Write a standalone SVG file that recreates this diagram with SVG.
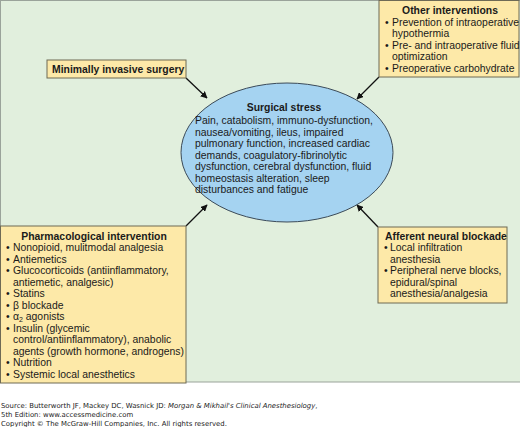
<svg xmlns="http://www.w3.org/2000/svg" width="520" height="427" viewBox="0 0 520 427">
<style>
.bg{fill:#e1efdd;stroke:#9aa39a;stroke-width:1}
.box{fill:#fde9a8;stroke:#6e6a55;stroke-width:1}
.ell{fill:#a5d3f1;stroke:#3b4a58;stroke-width:1}
text{font-family:"Liberation Sans",Arial,sans-serif;font-size:10.4px;fill:#1a1a1a}
.b{font-weight:bold}
.c{text-anchor:middle}
.src{font-family:"DejaVu Sans",Verdana,sans-serif;font-size:6.9px;fill:#222}
.con line{stroke:#111;stroke-width:1.3;marker-end:url(#ah)}
</style>
<defs>
<marker id="ah" viewBox="0 0 10 10" refX="9" refY="5" markerWidth="7" markerHeight="7" markerUnits="userSpaceOnUse" orient="auto">
<path d="M0,0 L10,5 L0,10 z" fill="#111"/>
</marker>
</defs>
<rect x="0" y="0" width="520" height="427" fill="#fff"/>
<rect class="bg" x="0.5" y="0.5" width="522" height="381.5"/>

<g class="con">
<line x1="186" y1="78" x2="207" y2="98"/>
<line x1="379" y1="77" x2="357" y2="99"/>
<line x1="186" y1="226" x2="207" y2="205"/>
<line x1="378" y1="227" x2="357" y2="205"/>
</g>

<g id="surgical-stress">
<ellipse class="ell" cx="287" cy="152.5" rx="106" ry="69.5"/>
<text class="b c" x="284" y="111">Surgical stress</text>
<text x="195" y="124">Pain, catabolism, immuno-dysfunction,</text>
<text x="195" y="135.5">nausea/vomiting, ileus, impaired</text>
<text x="195" y="147">pulmonary function, increased cardiac</text>
<text x="195" y="158.5">demands, coagulatory-fibrinolytic</text>
<text x="195" y="170">dysfunction, cerebral dysfunction, fluid</text>
<text x="195" y="181.5">homeostasis alteration, sleep</text>
<text x="195" y="193">disturbances and fatigue</text>
</g>

<g id="minimally-invasive">
<rect class="box" x="47" y="60" width="139" height="18"/>
<text class="b" x="52" y="72.5">Minimally invasive surgery</text>
</g>

<g id="other-interventions">
<rect class="box" x="379" y="0.5" width="140" height="76.5"/>
<text class="b c" x="450" y="14">Other interventions</text>
<text x="385" y="25.5">•</text><text x="392" y="25.5">Prevention of intraoperative</text>
<text x="392" y="37">hypothermia</text>
<text x="385" y="48.5">•</text><text x="392" y="48.5">Pre- and intraoperative fluid</text>
<text x="392" y="60">optimization</text>
<text x="385" y="71.5">•</text><text x="392" y="71.5">Preoperative carbohydrate</text>
</g>

<g id="pharmacological">
<rect class="box" x="0.5" y="226" width="185.5" height="157"/>
<text class="b c" x="94" y="239.5">Pharmacological intervention</text>
<text x="6" y="251">•</text><text x="13" y="251">Nonopioid, mulitmodal analgesia</text>
<text x="6" y="262.5">•</text><text x="13" y="262.5">Antiemetics</text>
<text x="6" y="274">•</text><text x="13" y="274">Glucocorticoids (antiinflammatory,</text>
<text x="13" y="285.5">antiemetic, analgesic)</text>
<text x="6" y="297">•</text><text x="13" y="297">Statins</text>
<text x="6" y="308.5">•</text><text x="13" y="308.5">β blockade</text>
<text x="6" y="320">•</text><text x="13" y="320">α<tspan font-size="7" dy="1.5">2</tspan><tspan dy="-1.5"> agonists</tspan></text>
<text x="6" y="331.5">•</text><text x="13" y="331.5">Insulin (glycemic</text>
<text x="13" y="343">control/antiinflammatory), anabolic</text>
<text x="13" y="354.5">agents (growth hormone, androgens)</text>
<text x="6" y="366">•</text><text x="13" y="366">Nutrition</text>
<text x="6" y="377.5">•</text><text x="13" y="377.5">Systemic local anesthetics</text>
</g>

<g id="afferent-neural">
<rect class="box" x="378" y="227" width="129" height="76"/>
<text class="b" x="385" y="239.5">Afferent neural blockade</text>
<text x="384" y="251">•</text><text x="390" y="251">Local infiltration</text>
<text x="390" y="262.5">anesthesia</text>
<text x="384" y="274">•</text><text x="390" y="274">Peripheral nerve blocks,</text>
<text x="390" y="285.5">epidural/spinal</text>
<text x="390" y="297">anesthesia/analgesia</text>
</g>

<g id="source">
<text class="src" x="1" y="407.5">Source: Butterworth JF, Mackey DC, Wasnick JD: <tspan font-style="italic">Morgan &amp; Mikhail's Clinical Anesthesiology</tspan>,</text>
<text class="src" x="1" y="416.5">5th Edition: www.accessmedicine.com</text>
<text class="src" x="1" y="425.5">Copyright © The McGraw-Hill Companies, Inc. All rights reserved.</text>
</g>
</svg>
